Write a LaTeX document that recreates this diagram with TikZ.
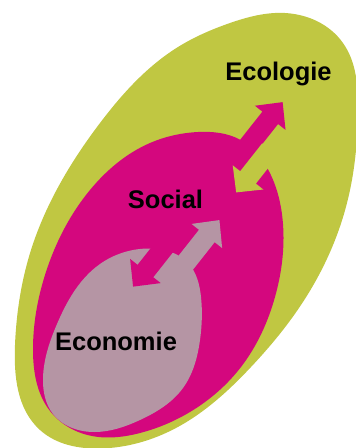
\documentclass[tikz,border=0pt]{standalone}
\usepackage{fontspec}
\setmainfont{Liberation Sans}
\usetikzlibrary{calc,hobby}
\definecolor{eco}{RGB}{192,199,66}
\definecolor{soc}{RGB}{212,7,126}
\definecolor{ecn}{RGB}{181,149,164}
% block arrow: colour, n (offset across), tail u, head base u, tip u
\newcommand\blockarrow[5]{%
  \begin{scope}[x={(0.62pt,0.785pt)}, y={(0.785pt,-0.62pt)}]
    \fill[#1] (#3,#2-10) -- (#4,#2-10) -- (#4,#2-19.5) -- (#5,#2)
      -- (#4,#2+19.5) -- (#4,#2+10) -- (#3,#2+10) -- cycle;
  \end{scope}}
\tikzset{lbl/.style={anchor=base, inner sep=0pt, font=\fontsize{25.5}{30}\selectfont\bfseries, text=black}}
\begin{document}
\begin{tikzpicture}[x=1pt, y=-1pt]
\useasboundingbox (0,0) rectangle (356,448);
% Ecologie
\fill[eco] plot[closed hobby] coordinates {
 (285,13) (343,43) (358,110) (347,203) (301,305) (251,367) (176,428)
 (100,448.5) (40,430) (15,345) (31,250) (100,123) (178,47) (230,23)};
% Social
\fill[soc] plot[closed hobby] coordinates {
 (198,132) (240.7,140) (268,169.3) (283,224) (275,297) (241,367) (190,412)
 (140,433) (92,436) (50,411) (33,351) (45,275) (90,190) (150,143)};
% arrows Ecologie <-> Social
\blockarrow{soc}{285}{25}{75}{95}
\blockarrow{eco}{304.5}{50}{14.5}{-4.6}
% Economie
\fill[ecn] plot[closed hobby] coordinates {
 (147,248.5) (189,264) (201,297) (200,340) (183,388) (140,420) (95,432)
 (53,414) (43,378) (57,324) (100,264)};
% arrows Social <-> Economie
\blockarrow{ecn}{308.5}{-115}{-57}{-36.7}
\blockarrow{soc}{282}{-80}{-122.5}{-142.4}
% labels
\node[lbl] (ecol) at (278.5,80) {Ecologie};
\node[lbl] (soci) at (165.5,208) {Social};
\node[lbl] (econ) at (116,350) {Economie};
\end{tikzpicture}
\end{document}
